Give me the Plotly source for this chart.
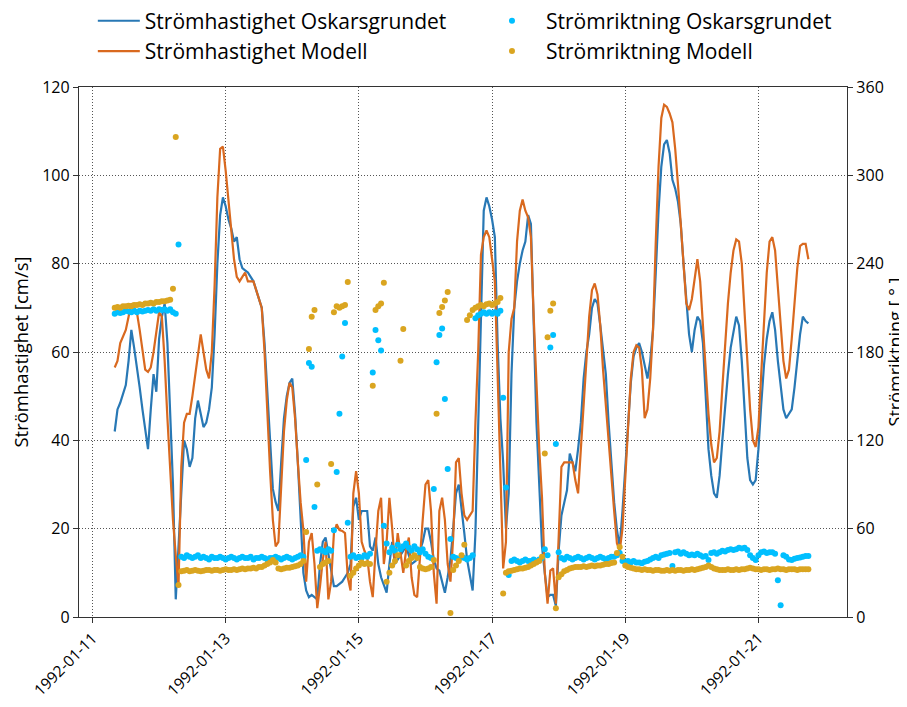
import pandas as pd
import plotly.graph_objects as go

# hourly observations, first sample 1992-01-11 08:00
start_time = "1992-01-11 08:00"

speed_oskarsgrundet = [
    42, 47, 48.5, 50.5, 52.5, 58, 65, 61, 57, 52,
    47, 43, 38, 47, 55, 51, 63, 68, 71, 62,
    45, 30, 4, 16, 30, 40, 38, 34, 36, 45,
    49, 46, 43, 44, 47, 52, 64, 80, 91, 95,
    93, 90, 88, 85, 86, 81, 79, 78.5, 78, 77,
    76, 74, 72, 70, 62, 50, 38, 29, 26, 24,
    35, 45, 50, 53, 54, 46, 35, 22, 10, 6,
    4.5, 5, 4.5, 4, 12, 17, 18, 14, 10, 7,
    7, 7.5, 8, 9, 10, 12, 25, 27, 22, 24,
    24, 24, 16, 15, 18, 12, 9, 7, 5.5, 12,
    17, 12, 13, 14, 15, 16, 14, 12, 12.5, 13,
    15, 17, 20, 20, 17, 13, 11, 10.5, 8, 5.5,
    9, 13, 20, 28, 30, 25, 19, 13, 9, 6,
    19, 42, 70, 92, 95, 93, 90, 86, 62, 45,
    35, 20, 28, 55, 70, 76, 80, 83, 85, 91,
    89, 65, 44, 30, 16, 10, 4.5, 5, 5, 2.5,
    15, 23, 26, 28.7, 37, 35, 33, 38, 44, 54,
    60, 64, 70, 72, 71, 66, 61, 55, 44, 34,
    26, 19.7, 16, 24, 33, 43, 53, 59, 61, 62,
    60, 57, 54, 58, 65, 78, 92, 102, 107, 108,
    105, 99, 97, 94, 89, 80, 72, 64, 60, 65,
    68, 67, 62, 50, 38, 32, 28, 27, 32, 40,
    48, 55, 61, 65, 68, 66, 58, 47, 36, 31,
    30, 31, 38, 48, 57, 63, 67, 69, 65, 58,
    52, 47, 45, 46, 47, 52, 58, 64, 68, 67,
    66.5,
]

speed_modell = [
    56.5, 58, 62, 63.5, 65, 68, 71, 70, 69, 65,
    61, 56, 55.5, 56.5, 60, 65, 69, 68, 58, 45,
    32, 22, 14, 7, 34, 44, 46, 46, 50, 55,
    60, 64, 60, 56, 54, 60, 75, 95, 106, 106.5,
    101, 94, 87, 81, 77, 76, 77, 78, 76, 76,
    76, 74, 72, 70, 60, 46, 33, 22, 16, 17,
    30, 42, 49, 53, 52, 45, 35, 26, 19.7, 8,
    17, 19, 12, 2, 7, 13, 17, 4, 8, 19,
    21, 19.7, 19.5, 19, 9, 6, 28, 33, 28, 17,
    15, 13.6, 8, 4.5, 15, 24, 27, 12, 17, 27,
    20, 12, 19, 15, 10, 15, 18, 9, 5, 4.5,
    14, 22, 30, 31, 24, 10, 3, 24, 27, 22,
    12, 8, 18, 35, 36, 28, 23, 22, 23, 24,
    44, 60, 82, 86, 87.5, 86, 81, 76, 55, 32,
    11, 17, 60, 67.5, 70, 85, 92, 94.5, 92, 90.5,
    86, 68, 52, 38, 27, 10, 3, 10.5, 11, 3,
    18, 34, 35, 35, 35, 35, 31, 28, 38, 48,
    60, 68, 74, 75.5, 73, 66, 56, 48, 38, 31,
    24, 16.7, 15, 20, 32, 43, 54, 60, 61.5, 61,
    56, 45, 47, 54, 65, 85, 102, 113, 116, 115.5,
    114, 112, 106, 98, 90, 80, 71, 69.5, 72, 77,
    81, 76, 66, 56, 46, 39, 35, 36, 42, 52,
    62, 71, 78, 83, 85.5, 85, 80, 70, 58, 47,
    40, 38.5, 43, 55, 68, 78, 85, 86, 83, 75,
    65, 58, 54, 56, 63, 72, 79, 84, 84.5, 84.5,
    81,
]

direction_oskarsgrundet = [
    206, 207, 206.5, 207, 208, 207.5, 207, 208, 207, 208,
    207.5, 208, 208.5, 208, 209, 208, 209, 208.5, 209, 208,
    209, 207, 206, 253, 41, 40, 42, 41, 40, 41,
    42, 40, 41, 40, 39, 41, 40, 40, 41, 40,
    39, 40, 41, 40, 39, 40, 41, 40, 40, 41,
    39, 40, 40, 41, 40, 39, 40, 40, 41, 40,
    39, 40, 41, 40, 39, 40, 41, 42, 41, 106.6,
    172.5, 170, 74.7, 45, 46, 45, 44, 46, 45, 59,
    98.5, 138, 177, 199.7, 64, 41, 42, 40, 41, 40,
    42, 41, 43, 166, 195, 188, 181, 62, 50, 44,
    47, 45, 49, 46, 48, 50, 47, 45, 48, 46,
    44, 46, 43, 41, 40, 87, 173, 191.5, 196, 148,
    100.5, 53, 41, 40, 39, 41, 40, 39, 40, 42,
    203, 205, 206, 207, 206, 207, 206, 207, 206, 208,
    149, 88, 28.5, 38, 39, 38, 37, 38, 39, 38,
    38, 39, 38, 39, 40, 46, 42, 183, 191.5, 117.5,
    44, 40, 39, 41, 40, 39, 40, 41, 40, 39,
    40, 41, 40, 39, 40, 41, 40, 39, 40, 41,
    41, 42, 43.5, 38, 37.5, 38, 37, 38, 37, 37,
    36.5, 37.5, 38, 39, 40, 41, 40, 42, 42.5, 43,
    43.5, 34.6, 44, 44.5, 43, 44, 43, 42, 42.5, 42,
    43, 42, 41, 41.5, 38.7, 43.5, 44, 43, 44, 45,
    44.5, 45.5, 46, 45.5, 46, 47, 46.5, 47, 45.5, 42,
    40, 38.7, 42, 44, 44.5, 43.5, 44, 44, 43, 25,
    8, 42, 41, 39, 38.7, 39.5, 40, 40.5, 41, 41.5,
    41.5,
]

direction_modell = [
    210, 210.5, 210, 211, 211, 211.5, 211, 212, 212, 212.5,
    212, 213, 213, 213.5, 213, 214, 214, 214.5, 214.5, 215,
    215.5, 223, 326, 21.7, 31, 31.5, 32, 31, 31.5, 32,
    31.5, 31, 31.5, 32, 32, 31.5, 32, 32, 31.5, 32,
    32.5, 32, 32, 32.5, 32, 32.5, 33, 32.5, 33, 33,
    33.5, 33, 34, 34, 35, 36, 37, 38.7, 37, 33,
    32.5, 33, 33.5, 33.5, 34, 34.5, 35, 36, 38, 57.7,
    182, 204, 208.5, 90, 34, 36, 37, 38, 104, 207,
    211, 210, 211, 212, 227.5, 28, 30, 33, 35, 37,
    36, 36.5, 36, 157, 208.5, 211, 213, 227, 24, 30,
    35, 38, 42, 174, 195.6, 35, 38, 40, 42, 40,
    34, 33, 32.5, 33, 34, 38.7, 138, 206.5, 210.6, 215,
    220.7, 2.7, 32, 35, 38, 42, 49, 201.7, 205, 208.5,
    210, 211, 212, 211, 212.5, 213, 212, 213, 214, 216.7,
    16, 30, 31, 31.5, 32, 32.5, 33, 33, 33.5, 34,
    35, 36, 37, 38, 41, 111, 190, 208, 213, 6,
    27, 29, 31, 32, 33, 33.5, 34, 34, 34, 34.5,
    34, 34.5, 35, 34.5, 35, 35, 35.5, 36, 36, 36.7,
    37, 43.5, 47.5, 41, 35, 34, 33.5, 33, 32.5, 32.5,
    32, 32.5, 32, 32, 31.5, 32, 32, 31.5, 31.5, 32,
    31.5, 32, 31.5, 32, 32, 31.5, 32, 32, 32.5, 32,
    32.5, 33, 33.5, 34, 35, 34, 33, 32.5, 32, 32,
    32, 32.5, 32, 32, 32.5, 32, 32.5, 32.5, 33, 33.5,
    33, 32.5, 32.5, 32, 32.5, 32.5, 32, 32.5, 32.5, 33,
    32.5, 32.5, 32, 32.5, 32.5, 32.5, 32, 32.5, 32.5, 32.5,
    32.5,
]

x_tick_dates = ["1992-01-11", "1992-01-13", "1992-01-15",
                "1992-01-17", "1992-01-19", "1992-01-21"]
speed_ticks = [0, 20, 40, 60, 80, 100, 120]
direction_ticks = [0, 60, 120, 180, 240, 300, 360]


def times_for(values):
    return pd.date_range(start_time, periods=len(values), freq="h")


FONT = "Open Sans, Noto Sans, DejaVu Sans, sans-serif"
BLUE_LINE = "#2878b5"
ORANGE_LINE = "#d9691f"
BLUE_DOT = "#00bfff"
GOLD_DOT = "#daa520"

fig = go.Figure()
fig.add_trace(go.Scatter(
    x=times_for(speed_oskarsgrundet), y=speed_oskarsgrundet,
    mode="lines", name="Strömhastighet Oskarsgrundet",
    line=dict(color=BLUE_LINE, width=2.2), legend="legend"))
fig.add_trace(go.Scatter(
    x=times_for(speed_modell), y=speed_modell,
    mode="lines", name="Strömhastighet Modell",
    line=dict(color=ORANGE_LINE, width=2.2), legend="legend"))
fig.add_trace(go.Scatter(
    x=times_for(direction_oskarsgrundet), y=direction_oskarsgrundet,
    mode="markers", name="Strömriktning Oskarsgrundet",
    marker=dict(color=BLUE_DOT, size=6), yaxis="y2", legend="legend2"))
fig.add_trace(go.Scatter(
    x=times_for(direction_modell), y=direction_modell,
    mode="markers", name="Strömriktning Modell",
    marker=dict(color=GOLD_DOT, size=6), yaxis="y2", legend="legend2"))

axis_line = "#333333"
grid_col = "#555555"
grid_dash = "1px,2px"

fig.update_layout(
    width=899, height=699,
    margin=dict(l=71, r=60, t=79, b=90, autoexpand=False),
    paper_bgcolor="white", plot_bgcolor="white",
    font=dict(family=FONT, size=14, color="black"),
    showlegend=True,
    xaxis=dict(
        type="date", automargin=False,
        range=["1992-01-10 19:08", "1992-01-22 07:55"],
        tickvals=x_tick_dates, ticktext=x_tick_dates,
        tickangle=-45, tickfont=dict(size=15.5),
        showgrid=True, gridcolor=grid_col, griddash=grid_dash, gridwidth=1,
        ticks="outside", ticklen=5, tickcolor=axis_line,
        showline=True, linecolor=axis_line, linewidth=1.3, mirror=True,
        zeroline=False,
    ),
    yaxis=dict(
        range=[0, 120], tickvals=speed_ticks, automargin=False,
        title=dict(text="Strömhastighet [cm/s]", font=dict(size=18.5), standoff=20),
        tickfont=dict(size=16),
        showgrid=True, gridcolor=grid_col, griddash=grid_dash, gridwidth=1,
        ticks="outside", ticklen=5, tickcolor=axis_line,
        showline=True, linecolor=axis_line, linewidth=1.3, mirror=True,
        zeroline=False,
    ),
    yaxis2=dict(
        range=[0, 360], tickvals=direction_ticks, automargin=False,
        overlaying="y", side="right",
        title=dict(text="Strömriktning [ ° ]", font=dict(size=18), standoff=0),
        tickfont=dict(size=16),
        showgrid=False,
        ticks="outside", ticklen=5, tickcolor=axis_line,
        showline=True, linecolor=axis_line, linewidth=1.3,
        zeroline=False,
    ),
    legend=dict(
        x=0.018, y=1.163, xanchor="left", yanchor="top",
        orientation="v", font=dict(size=21), bgcolor="rgba(0,0,0,0)",
        itemwidth=42, tracegroupgap=0,
    ),
    legend2=dict(
        x=0.5195, y=1.163, xanchor="left", yanchor="top",
        orientation="v", font=dict(size=21), bgcolor="rgba(0,0,0,0)",
        itemwidth=58, tracegroupgap=0,
    ),
)

fig.write_html("out.html")
